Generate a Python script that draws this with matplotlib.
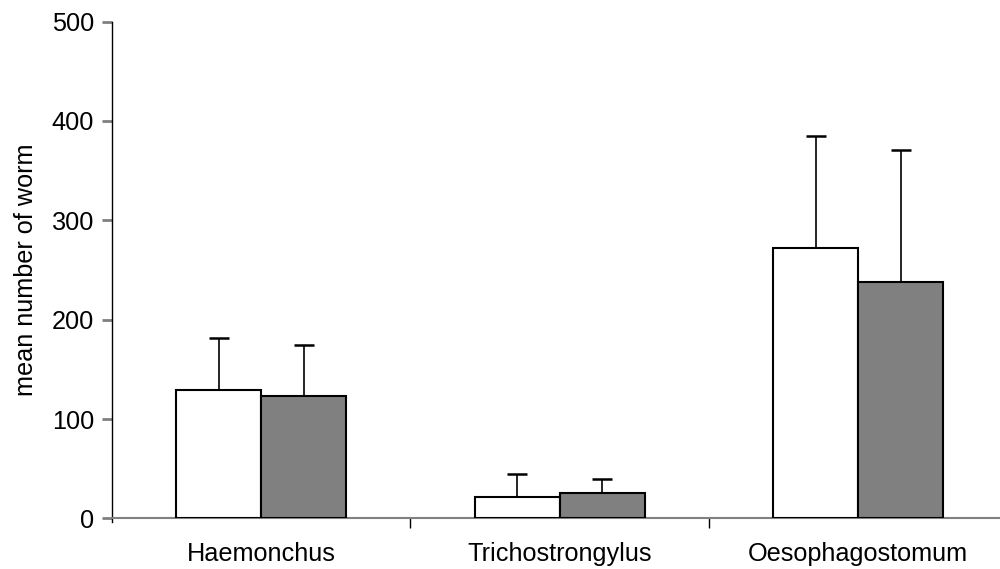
import numpy as np
import matplotlib
matplotlib.use("Agg")
import matplotlib.pyplot as plt

plt.rcParams['font.family'] = ['Liberation Sans', 'DejaVu Sans']

# worm counts per genus (two groups), upper error only
genera = ["Haemonchus", "Trichostrongylus", "Oesophagostomum"]
white_mean = [129, 21, 272]
white_err = [53, 24, 113]
gray_mean = [123, 26, 238]
gray_err = [52, 14, 133]

fig = plt.figure(figsize=(10, 5.69), dpi=100)
ax = fig.add_axes([0.112, 0.089, 0.888, 0.873])

x = np.arange(len(genera))
w = 0.285

ax.bar(x - w / 2, white_mean, w, color="white", edgecolor="black", linewidth=1.5, zorder=3)
ax.bar(x + w / 2, gray_mean, w, color="#808080", edgecolor="black", linewidth=1.5, zorder=3)
ax.errorbar(x - w / 2, white_mean, yerr=[np.zeros(3), white_err], fmt="none",
            ecolor="black", elinewidth=1.2, capsize=7.5, capthick=1.8, zorder=2)
ax.errorbar(x + w / 2, gray_mean, yerr=[np.zeros(3), gray_err], fmt="none",
            ecolor="black", elinewidth=1.2, capsize=7.5, capthick=1.8, zorder=2)

ax.set_xlim(-0.5, 2.475)
ax.set_ylim(0, 500)
ax.set_yticks(range(0, 501, 100))
ax.set_xticks(x)
ax.set_xticklabels(genera)
ax.set_xticks([0.5, 1.5], minor=True)

fs = 18.2
ax.tick_params(axis="x", which="major", length=0, pad=17, labelsize=fs)
ax.tick_params(axis="x", which="minor", length=7, width=1, color="black", direction="out")
ax.tick_params(axis="y", length=7, width=2, color="#808080", pad=6, labelsize=fs)

for s in ["top", "right"]:
    ax.spines[s].set_visible(False)
ax.spines["left"].set_color("black")
ax.spines["left"].set_linewidth(1)
ax.spines["left"].set_bounds(-4, 500)
ax.spines["bottom"].set_color("#808080")
ax.spines["bottom"].set_linewidth(1.5)
ax.set_ylabel("mean number of worm", fontsize=fs, labelpad=10)

fig.savefig("out.png", dpi=100)
